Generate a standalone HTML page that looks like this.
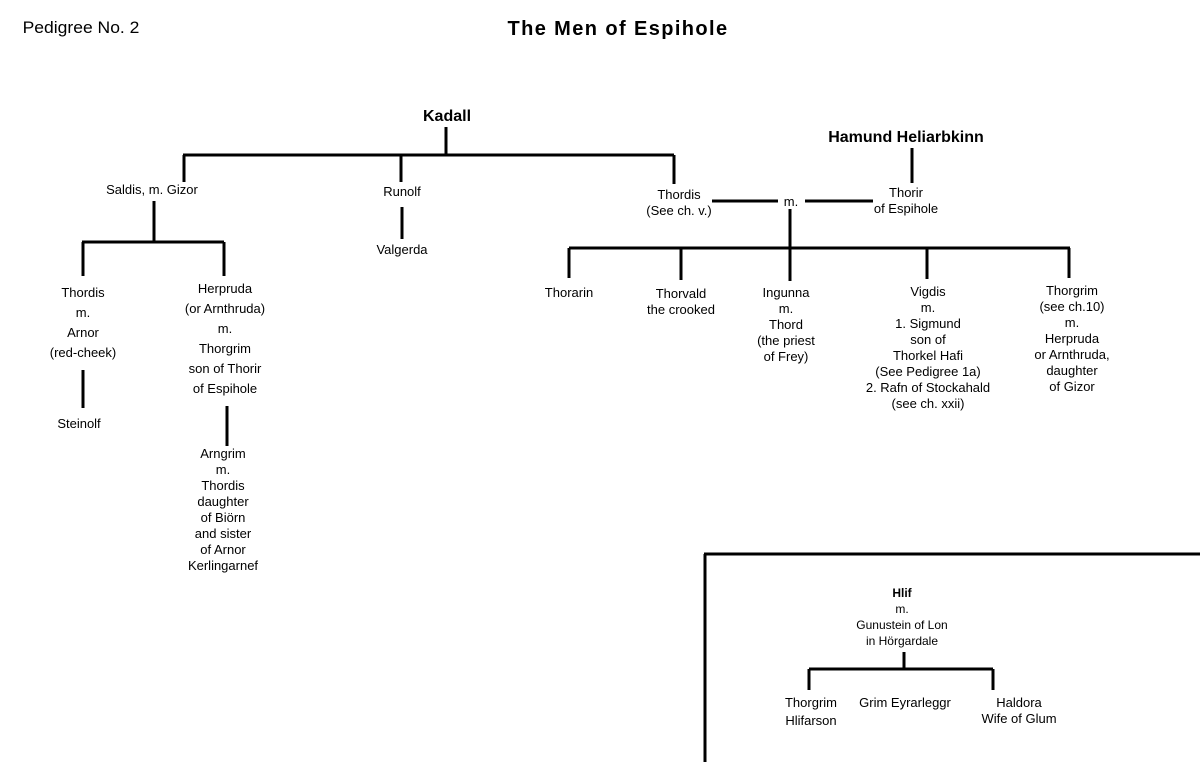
<!DOCTYPE html>
<html><head><meta charset="utf-8"><style>
body{margin:0;width:1200px;height:762px;background:#fff;position:relative;overflow:hidden;font-family:"Liberation Sans",sans-serif;color:#000}
.t{position:absolute;transform:translate(-50%,-50%);text-align:center;font-size:13px;line-height:16px;white-space:nowrap}
.l20{line-height:20px}
svg{position:absolute;left:0;top:0}
</style></head><body>
<svg width="1200" height="762" stroke="#000" stroke-width="3" fill="none">
<path d="M446 127V155M183 155H674M184 155V182M401 155V182M674 155V184"/>
<path d="M154 201V242M82 242H224M83 242V276M224 242V276"/>
<path d="M402 207V239"/>
<path d="M83 370V408M227 406V446"/>
<path d="M712 201H778M805 201H873M912 148V183"/>
<path d="M790 209V248M569 248H1070M569 248V278M681 248V280M790 248V281M927 248V279M1069 248V278"/>
<path d="M704 554H1200M705 554V762"/>
<path d="M904 652V669M809 669H993M809 669V690M993 669V690"/>
</svg>
<div class="t" style="left:81px;top:28px;font-size:17px;transform:translate(-50%,-50%) scaleX(1.03)">Pedigree No. 2</div>
<div class="t" style="left:618px;top:29px;font-size:20px;font-weight:bold;letter-spacing:1.4px">The Men of Espihole</div>
<div class="t" style="left:447px;top:117px;font-size:16px;font-weight:bold">Kadall</div>
<div class="t" style="left:906px;top:138px;font-size:16px;font-weight:bold">Hamund Heliarbkinn</div>
<div class="t" style="left:152px;top:190px">Saldis, m. Gizor</div>
<div class="t" style="left:402px;top:192px">Runolf</div>
<div class="t" style="left:402px;top:250px">Valgerda</div>
<div class="t" style="left:679px;top:203px">Thordis<br>(See ch. v.)</div>
<div class="t" style="left:791px;top:202px">m.</div>
<div class="t" style="left:906px;top:201px">Thorir<br>of Espihole</div>
<div class="t l20" style="left:83px;top:323px">Thordis<br>m.<br>Arnor<br>(red-cheek)</div>
<div class="t" style="left:79px;top:424px">Steinolf</div>
<div class="t l20" style="left:225px;top:339px">Herpruda<br>(or Arnthruda)<br>m.<br>Thorgrim<br>son of Thorir<br>of Espihole</div>
<div class="t" style="left:223px;top:510px">Arngrim<br>m.<br>Thordis<br>daughter<br>of Biörn<br>and sister<br>of Arnor<br>Kerlingarnef</div>
<div class="t" style="left:569px;top:293px">Thorarin</div>
<div class="t" style="left:681px;top:302px">Thorvald<br>the crooked</div>
<div class="t" style="left:786px;top:325px">Ingunna<br>m.<br>Thord<br>(the priest<br>of Frey)</div>
<div class="t" style="left:928px;top:348px">Vigdis<br>m.<br>1. Sigmund<br>son of<br>Thorkel Hafi<br>(See Pedigree 1a)<br>2. Rafn of Stockahald<br>(see ch. xxii)</div>
<div class="t" style="left:1072px;top:339px">Thorgrim<br>(see ch.10)<br>m.<br>Herpruda<br>or Arnthruda,<br>daughter<br>of Gizor</div>
<div class="t" style="left:902px;top:617px;font-size:12px"><b>Hlif</b><br>m.<br>Gunustein of Lon<br>in Hörgardale</div>
<div class="t" style="left:811px;top:712px;line-height:18px">Thorgrim<br>Hlifarson</div>
<div class="t" style="left:905px;top:703px">Grim Eyrarleggr</div>
<div class="t" style="left:1019px;top:711px">Haldora<br>Wife of Glum</div>
</body></html>
